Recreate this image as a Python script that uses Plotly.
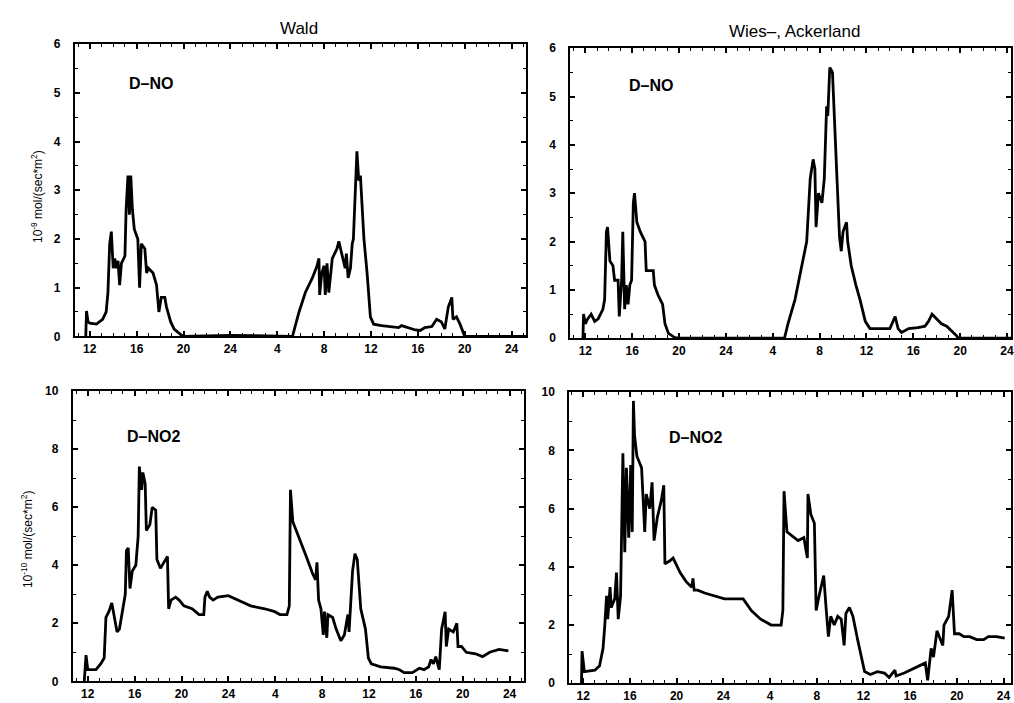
import plotly.graph_objects as go

# ---------------- data (hours counted continuously from day 1, 0h) ----------------
tick_vals = [12, 16, 20, 24, 28, 32, 36, 40, 44, 48]
tick_text = ["12", "16", "20", "24", "4", "8", "12", "16", "20", "24"]

wald_no_h = [11.66, 11.72, 11.85, 12.0, 12.57, 13.1, 13.4, 13.55, 13.7, 13.84, 14.0, 14.13, 14.27, 14.41,
             14.55, 14.7, 15.0, 15.1, 15.26, 15.38, 15.5, 15.64, 15.8, 16.1, 16.25, 16.4, 16.7, 16.85, 17.0,
             17.4, 17.7, 17.9, 18.1, 18.4, 18.55, 18.9, 19.2, 19.65, 19.94, 24.0, 29.3, 29.86, 30.4, 31.0,
             31.4, 31.56, 31.62, 31.8, 32.0, 32.1, 32.25, 32.4, 32.7, 33.1, 33.26, 33.5, 33.8, 33.9, 34.05,
             34.25, 34.4, 34.5, 34.7, 34.8, 34.96, 35.1, 35.4, 35.67, 35.95, 36.23, 36.9, 37.8, 38.36, 38.6,
             39.2, 39.8, 40.2, 40.6, 41.2, 41.6, 42.0, 42.3, 42.6, 42.9, 43.0, 43.3, 43.6, 43.9, 44.0, 49.3]
wald_no_v = [0, 0.52, 0.3, 0.27, 0.25, 0.35, 0.5, 0.9, 1.9, 2.15, 1.4, 1.6, 1.4, 1.55,
             1.05, 1.5, 1.65, 2.6, 3.3, 2.5, 3.3, 2.6, 2.2, 2.0, 1.0, 1.9, 1.8, 1.3, 1.4,
             1.3, 1.05, 0.5, 0.8, 0.8, 0.6, 0.3, 0.15, 0.05, 0.0, 0.02, 0.0, 0.5, 0.9, 1.2,
             1.45, 1.6, 0.85, 1.3, 1.45, 0.85, 1.5, 0.9, 1.6, 1.8, 1.95, 1.7, 1.4, 1.7, 1.2,
             1.4, 1.9, 2.0, 3.0, 3.8, 3.2, 3.3, 2.0, 1.3, 0.4, 0.25, 0.22, 0.2, 0.18, 0.22,
             0.18, 0.13, 0.12, 0.18, 0.2, 0.35, 0.3, 0.15, 0.6, 0.8, 0.35, 0.4, 0.25, 0.05, 0.0, 0.0]

wies_no_h = [11.8, 11.85, 12.0, 12.2, 12.5, 12.8, 13.1, 13.5, 13.65, 13.8, 13.9, 14.1, 14.36, 14.5, 14.8,
             14.9, 15.1, 15.2, 15.36, 15.5, 15.65, 15.8, 15.95, 16.1, 16.2, 16.4, 16.7, 17.1, 17.2, 17.5,
             17.8, 17.9, 18.2, 18.6, 18.8, 19.1, 19.6, 20.0, 29.0, 29.3, 29.9, 30.4, 30.9, 31.2, 31.45,
             31.6, 31.7, 31.9, 32.2, 32.4, 32.6, 32.7, 32.87, 33.1, 33.25, 33.45, 33.7, 33.85, 34.0, 34.3,
             34.4, 34.7, 35.1, 35.45, 35.9, 36.3, 37.3, 38.0, 38.45, 38.7, 39.0, 39.6, 40.4, 41.0, 41.3,
             41.6, 42.0, 42.4, 42.85, 43.3, 43.7, 43.85, 48.5]
wies_no_v = [0, 0.5, 0.3, 0.4, 0.5, 0.35, 0.4, 0.6, 0.8, 2.2, 2.3, 1.6, 1.5, 1.2, 1.2,
             0.45, 1.2, 2.2, 0.6, 1.1, 0.7, 1.1, 1.2, 2.8, 3.0, 2.4, 2.2, 2.0, 1.4, 1.4,
             1.4, 1.1, 0.9, 0.7, 0.3, 0.1, 0.02, 0.0, 0.0, 0.3, 0.8, 1.4, 2.0, 3.3, 3.7,
             3.5, 2.3, 3.0, 2.8, 3.3, 4.8, 4.6, 5.6, 5.5, 4.5, 3.5, 2.1, 1.8, 2.2, 2.4,
             2.0, 1.5, 1.1, 0.8, 0.35, 0.2, 0.2, 0.2, 0.45, 0.2, 0.12, 0.2, 0.22, 0.25, 0.35,
             0.5, 0.4, 0.3, 0.25, 0.15, 0.05, 0.0, 0.0]

wald_no2_h = [11.7, 11.85, 12.0, 12.7, 13.1, 13.4, 13.55, 13.8, 14.05, 14.26, 14.5, 14.7, 14.97, 15.2,
              15.3, 15.45, 15.6, 15.8, 16.1, 16.3, 16.4, 16.6, 16.7, 16.9, 17.0, 17.3, 17.5, 17.8, 17.9,
              18.2, 18.5, 18.8, 18.9, 19.1, 19.5, 19.8, 20.2, 20.9, 21.5, 21.9, 22.0, 22.2, 22.4, 22.7,
              23.1, 24.0, 24.8, 25.9, 27.1, 27.96, 28.4, 29.0, 29.2, 29.3, 29.5, 29.8, 30.65, 31.2, 31.45,
              31.56, 31.7, 31.9, 32.1, 32.2, 32.4, 32.5, 32.9, 33.2, 33.6, 33.9, 34.2, 34.3, 34.6, 34.8,
              35.0, 35.3, 35.7, 35.95, 36.2, 37.0, 38.16, 38.6, 39.0, 39.7, 40.3, 40.7, 41.1, 41.3, 41.5,
              41.7, 42.0, 42.2, 42.5, 42.6, 42.8, 43.2, 43.5, 43.6, 43.9, 44.3, 45.1, 45.7, 46.3, 47.1, 47.9]
wald_no2_v = [0, 0.9, 0.4, 0.4, 0.6, 0.8, 2.2, 2.4, 2.7, 2.2, 1.7, 1.8, 2.5, 3.0,
              4.5, 4.6, 3.2, 3.8, 4.0, 5.0, 7.4, 6.6, 7.2, 6.8, 5.2, 5.4, 6.0, 5.9, 4.2,
              3.9, 4.1, 4.3, 2.5, 2.8, 2.9, 2.8, 2.6, 2.5, 2.3, 2.3, 2.9, 3.1, 2.9, 2.8,
              2.9, 2.95, 2.8, 2.6, 2.5, 2.4, 2.3, 2.3, 2.6, 6.6, 5.5, 5.2, 4.3, 3.7, 3.5,
              4.1, 2.8, 2.5, 1.6, 2.4, 1.5, 2.3, 2.2, 1.8, 1.4, 1.6, 2.3, 1.7, 3.8, 4.4,
              4.2, 2.5, 1.8, 0.8, 0.6, 0.5, 0.45, 0.4, 0.3, 0.3, 0.45, 0.4, 0.5, 0.75, 0.6,
              0.85, 0.4, 1.8, 2.4, 1.2, 1.8, 1.7, 2.0, 1.2, 1.2, 1.0, 0.95, 0.85, 1.0, 1.1, 1.05]

wies_no2_h = [11.85, 11.9, 12.1, 13.0, 13.4, 13.7, 13.85, 14.0, 14.1, 14.3, 14.4, 14.7, 14.85, 15.0,
              15.2, 15.4, 15.56, 15.7, 15.9, 16.07, 16.2, 16.3, 16.4, 16.6, 17.0, 17.27, 17.4, 17.7, 17.9,
              18.07, 18.35, 18.7, 18.9, 19.0, 19.4, 19.7, 20.3, 20.8, 21.3, 21.4, 21.5, 21.8, 22.4, 23.25,
              24.1, 24.7, 25.7, 26.4, 27.2, 28.1, 28.95, 29.1, 29.2, 29.45, 29.8, 30.4, 30.9, 31.2, 31.25,
              31.5, 31.8, 31.95, 32.2, 32.6, 32.8, 33.0, 33.2, 33.5, 33.8, 34.1, 34.35, 34.5, 34.8, 35.1,
              35.5, 36.1, 36.6, 37.2, 37.8, 38.2, 38.7, 38.8, 39.5, 40.3, 40.9, 41.3, 41.5, 41.8, 42.0,
              42.3, 42.8, 42.9, 43.3, 43.6, 43.8, 44.2, 44.6, 45.1, 45.7, 46.3, 46.7, 47.4, 48.1]
wies_no2_v = [0, 1.1, 0.4, 0.45, 0.6, 1.2, 2.0, 3.0, 2.2, 3.3, 2.6, 2.9, 3.8, 2.2,
              3.0, 7.9, 4.5, 7.4, 5.0, 7.5, 5.2, 9.7, 8.5, 7.8, 7.4, 5.2, 6.5, 6.0, 6.9,
              4.9, 5.7, 6.3, 6.8, 4.1, 4.2, 4.3, 3.8, 3.5, 3.3, 3.6, 3.2, 3.2, 3.1, 3.0,
              2.9, 2.9, 2.9, 2.5, 2.2, 2.0, 2.0, 2.5, 6.6, 5.2, 5.1, 4.9, 5.0, 4.3, 6.5,
              5.8, 5.5, 2.5, 3.0, 3.7, 2.6, 1.6, 2.3, 2.0, 2.3, 2.2, 1.3, 2.4, 2.6, 2.3,
              1.5, 0.4, 0.3, 0.4, 0.35, 0.2, 0.45, 0.25, 0.35, 0.5, 0.6, 0.7, 0.1, 1.2, 0.9,
              1.8, 1.3, 2.0, 2.3, 3.2, 1.7, 1.7, 1.6, 1.6, 1.5, 1.5, 1.6, 1.6, 1.55]

panel_titles = ["Wald", "Wies–, Ackerland"]
series_labels = ["D–NO", "D–NO2"]
y_titles = ["10<sup>-9</sup> mol/(sec*m<sup>2</sup>)", "10<sup>-10</sup> mol/(sec*m<sup>2</sup>)"]

# ---------------- figure ----------------
W, H = 1014, 703
FONT = "Liberation Sans, Arial, sans-serif"

def px_x(p):
    return p / W

def px_y(p):
    return 1 - p / H

fig = go.Figure()

panels = [
    (wald_no_h, wald_no_v, (75, 528), (38, 336), [10.72, 49.27], [0, 6], 1, 0.5),
    (wies_no_h, wies_no_v, (572, 1014), (42, 338), [10.72, 48.34], [0, 6], 1, 0.5),
    (wald_no2_h, wald_no2_v, (73, 526), (392, 688), [10.72, 49.27], [0, 10], 2, 1),
    (wies_no2_h, wies_no2_v, (571, 1014), (393, 690), [10.81, 48.64], [0, 10], 2, 1),
]

layout = dict(
    width=W, height=H,
    margin=dict(l=0, r=0, t=0, b=0),
    paper_bgcolor="white", plot_bgcolor="white",
    showlegend=False,
    font=dict(family=FONT, color="black"),
)

for i, (hx, vy, (x0, x1), (yt, yb), xr, yr, dt, mdt) in enumerate(panels):
    n = "" if i == 0 else str(i + 1)
    fig.add_trace(go.Scatter(
        x=hx, y=vy, mode="lines",
        line=dict(color="black", width=2.8),
        xaxis="x" + n, yaxis="y" + n, hoverinfo="skip",
    ))
    layout["xaxis" + n] = dict(
        domain=[px_x(x0), min(px_x(x1), 1.0)], range=xr, anchor="y" + n,
        tickvals=tick_vals, ticktext=tick_text,
        ticks="inside", ticklen=5, tickwidth=1.5, tickcolor="black",
        minor=dict(ticks="inside", ticklen=3, dtick=1, tick0=0, tickcolor="black", tickwidth=1.2, showgrid=False),
        showline=True, linecolor="black", linewidth=2, mirror="allticks",
        showgrid=False, zeroline=False, ticklabeloverflow="allow",
        tickfont=dict(family=FONT, size=12, color="black", weight="bold"),
    )
    layout["yaxis" + n] = dict(
        domain=[px_y(yb), px_y(yt)], range=yr, anchor="x" + n,
        dtick=dt, tick0=0,
        ticks="inside", ticklen=5, tickwidth=1.5, tickcolor="black",
        minor=dict(ticks="inside", ticklen=3, dtick=mdt, tick0=0, tickcolor="black", tickwidth=1.2, showgrid=False),
        showline=True, linecolor="black", linewidth=2, mirror="allticks",
        showgrid=False, zeroline=False,
        ticklabelstandoff=10,
        tickfont=dict(family=FONT, size=12, color="black", weight="bold"),
    )

fig.update_layout(**layout)

annotations = []
# column titles
annotations.append(dict(text=panel_titles[0], x=px_x(300), y=px_y(22), xref="paper", yref="paper",
                        xanchor="center", yanchor="middle",
                        showarrow=False, font=dict(family=FONT, size=17, color="black")))
annotations.append(dict(text=panel_titles[1], x=px_x(797), y=px_y(25), xref="paper", yref="paper",
                        xanchor="center", yanchor="middle",
                        showarrow=False, font=dict(family=FONT, size=17, color="black")))
# series labels inside panels
label_pos = [("x", "y", 17.2, 5.19, 0), ("x2", "y2", 17.6, 5.23, 0),
             ("x3", "y3", 17.6, 8.45, 1), ("x4", "y4", 21.6, 8.45, 1)]
for xr_, yr_, lx, ly, k in label_pos:
    annotations.append(dict(text=series_labels[k], x=lx, y=ly, xref=xr_, yref=yr_, showarrow=False,
                            xanchor="center", yanchor="middle",
                            font=dict(family=FONT, size=16, color="black", weight="bold")))
# y-axis titles
annotations.append(dict(text=y_titles[0], x=px_x(37), y=px_y(193), xref="paper", yref="paper",
                        xanchor="center", yanchor="middle",
                        showarrow=False, textangle=-90, font=dict(family=FONT, size=12, color="black")))
annotations.append(dict(text=y_titles[1], x=px_x(27), y=px_y(543), xref="paper", yref="paper",
                        xanchor="center", yanchor="middle",
                        showarrow=False, textangle=-90, font=dict(family=FONT, size=12, color="black")))
fig.update_layout(annotations=annotations)

fig.write_html("out.html")
